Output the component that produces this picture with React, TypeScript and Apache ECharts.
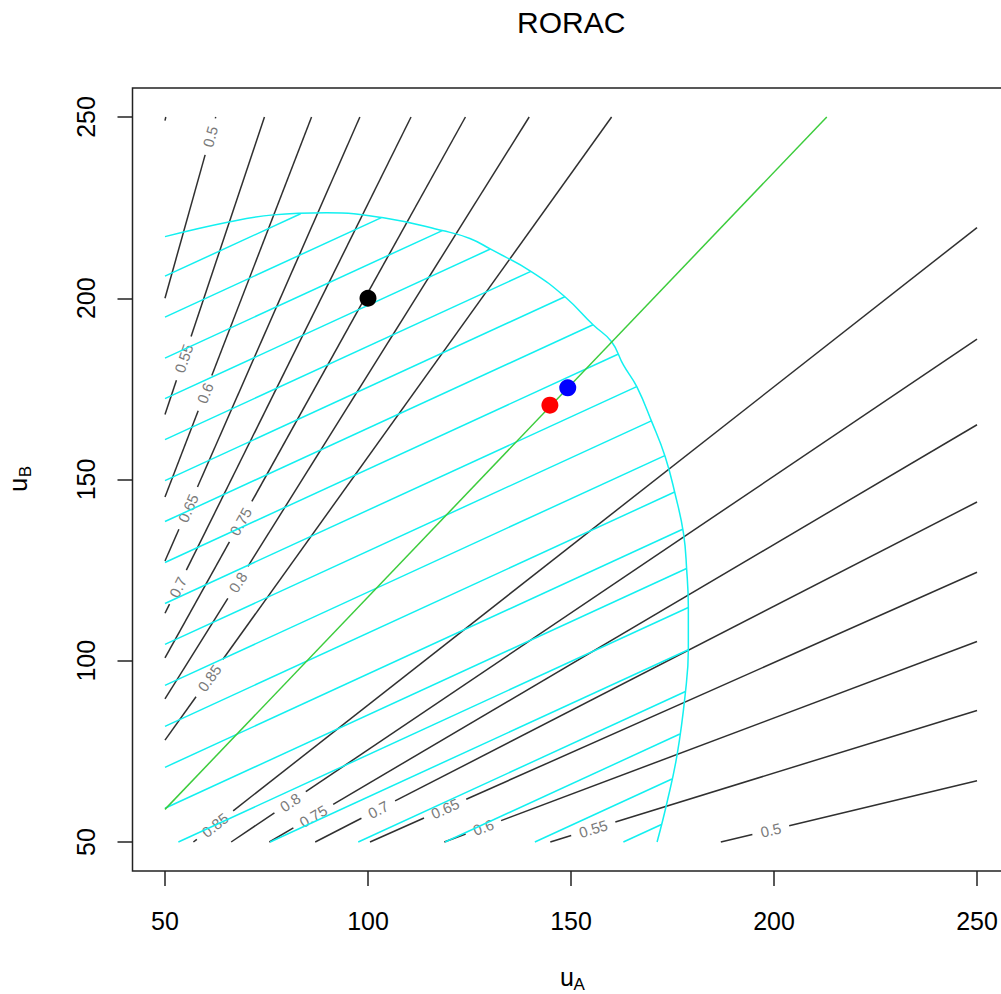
import React, { useEffect, useRef } from "react";
import * as echarts from "echarts";

// ---------- data ----------
const xTicks = [50, 100, 150, 200, 250];
const yTicks = [50, 100, 150, 200, 250];

// RORAC contour lines left of the optimum (steep family)
const upperLevels = ["0.5", "0.55", "0.6", "0.65", "0.7", "0.75", "0.8", "0.85"];
const upperStarts = [[50, 200], [50, 167.9], [50, 145.2], [50, 127.5], [50, 113.1], [50, 100.8], [50, 89.5], [50, 78.1]];
const upperEnds = [[62.5, 250], [74.5, 250], [86.1, 250], [98.0, 250], [110.6, 250], [124.0, 250], [139.7, 250], [160.0, 250]];
const upperLabelAt = [[61.1, 244.6], [54.6, 183.4], [59.9, 173.8], [55.7, 142.1], [53.2, 120.3], [68.6, 138.4], [68.0, 121.6], [61.0, 95.2]];

// RORAC contour lines right of the optimum (flat family)
const lowerLevels = ["0.85", "0.8", "0.75", "0.7", "0.65", "0.6", "0.55", "0.5"];
const lowerStarts = [[57.0, 50], [66.3, 50], [75.7, 50], [87.0, 50], [100.5, 50], [118.8, 50], [144.9, 50], [186.9, 50]];
const lowerEnds = [[250, 219.5], [250, 188.7], [250, 165.1], [250, 143.8], [250, 124.4], [250, 105.3], [250, 86.3], [250, 66.9]];
const lowerLabelAt = [[62.3, 54.7], [80.8, 61.0], [86.5, 57.2], [102.5, 59.0], [119.0, 59.2], [128.4, 54.1], [155.5, 53.6], [199.2, 53.3]];

// tiny piece of a further contour in the top-left corner
const cornerStart = [50, 249.0];
const cornerEnd = [50.2, 250];

// optimal direction (green line)
const optimumLine = [[50, 59.0], [213.0, 250]];

// feasible-region boundary (cyan arc)
const boundaryArc = [
  [50, 217.0], [66.0, 221.1], [76.7, 223.0], [89.8, 223.6], [103.8, 222.2],
  [118.6, 218.6], [125.1, 216.5], [130.1, 213.6], [140.3, 207.3], [148.5, 200.4],
  [155.5, 192.6], [160.0, 188.0], [162.9, 181.6], [166.2, 175.6], [169.9, 165.9],
  [173.2, 156.3], [175.6, 146.2], [177.7, 135.2], [178.5, 125.0], [178.9, 114.9],
  [178.9, 103.0], [178.2, 91.5], [176.2, 74.5], [173.6, 60.7], [171.2, 50],
];

// shading lines inside the region
const hatchSlope = 0.515;
const hatchLeftStarts = [206.1, 194.8, 183.5, 172.3, 161.0, 149.7, 138.4, 127.1, 115.8, 104.5, 93.2, 81.9, 70.6, 59.3];
const hatchBottomStarts = [53.3, 75.9, 97.6, 119.0, 141.1, 162.9];

// points
const pointX = [100, 144.8, 149.2];
const pointY = [200, 170.5, 175.3];
const pointColors = ["#000000", "#ff0000", "#0000ff"];

// ---------- helpers ----------
function hatchEnd(x0: number, y0: number): number[] {
  let best = -1;
  for (let i = 0; i < boundaryArc.length - 1; i++) {
    const [ax, ay] = boundaryArc[i];
    const [bx, by] = boundaryArc[i + 1];
    const dx = bx - ax, dy = by - ay;
    const det = -dy + dx * hatchSlope;
    if (Math.abs(det) < 1e-12) continue;
    const rx = ax - x0, ry = ay - y0;
    const t = (-rx * dy + dx * ry) / det;
    const u = (ry - hatchSlope * rx) / det;
    if (u >= 0 && u <= 1 && t > 0 && (best < 0 || t < best)) best = t;
  }
  if (best < 0) best = 0;
  return [x0 + best, y0 + hatchSlope * best];
}

function labelWidth(s: string, fs: number) {
  let w = 0;
  for (const c of s) w += c === "." ? 0.278 : 0.556;
  return w * fs;
}

const FONT = '"Liberation Sans", Arial, sans-serif';
const LABEL_FS = 15;
const LINE_COLOR = "#303030";
const CYAN = "#12f0f0";

export default function App() {
  const ref = useRef<HTMLDivElement>(null);
  useEffect(() => {
    if (!ref.current) return;
    const chart = echarts.init(ref.current, null, { renderer: "svg" });

    const contourLabels: (string | null)[] = [];
    const contourData: number[][] = [];
    upperLevels.forEach((lv, i) => {
      contourLabels.push(lv);
      contourData.push([upperStarts[i][0], upperStarts[i][1], upperEnds[i][0], upperEnds[i][1], upperLabelAt[i][0], upperLabelAt[i][1]]);
    });
    lowerLevels.forEach((lv, i) => {
      contourLabels.push(lv);
      contourData.push([lowerStarts[i][0], lowerStarts[i][1], lowerEnds[i][0], lowerEnds[i][1], lowerLabelAt[i][0], lowerLabelAt[i][1]]);
    });
    contourLabels.push(null);
    contourData.push([cornerStart[0], cornerStart[1], cornerEnd[0], cornerEnd[1], cornerStart[0], cornerStart[1]]);

    const hatchData: number[][] = [];
    hatchLeftStarts.forEach((y) => {
      const e = hatchEnd(50, y);
      hatchData.push([50, y, e[0], e[1]]);
    });
    hatchBottomStarts.forEach((x) => {
      const e = hatchEnd(x, 50);
      hatchData.push([x, 50, e[0], e[1]]);
    });

    const lineStyle = { stroke: LINE_COLOR, lineWidth: 1.5, fill: null };

    const option: any = {
      animation: false,
      grid: {
        left: 132.5, top: 88, width: 877, height: 783,
        show: true, borderColor: "#222", borderWidth: 1.5, backgroundColor: "transparent",
      },
      xAxis: {
        type: "value", min: 42, max: 258,
        axisLine: { show: false },
        splitLine: { show: false },
        axisTick: { show: true, inside: false, length: 15, customValues: xTicks, lineStyle: { color: "#222", width: 1.5 } },
        axisLabel: { customValues: xTicks, margin: 37, fontSize: 25, color: "#000", fontFamily: FONT },
      },
      yAxis: {
        type: "value", min: 42, max: 258,
        axisLine: { show: false },
        splitLine: { show: false },
        axisTick: { show: true, inside: false, length: 15, customValues: yTicks, lineStyle: { color: "#222", width: 1.5 } },
        axisLabel: { customValues: yTicks, margin: 34, fontSize: 25, color: "#000", fontFamily: FONT, rotate: 90 },
      },
      graphic: [
        {
          type: "text", x: 571.25, y: 22.9,
          style: { text: "RORAC", font: `30px ${FONT}`, fill: "#000", textAlign: "center", textVerticalAlign: "middle", align: "center", verticalAlign: "middle" },
        },
        {
          type: "text", x: 560, y: 977.3,
          style: { text: "u", font: `25px ${FONT}`, fill: "#000", textAlign: "left", textVerticalAlign: "middle", align: "left", verticalAlign: "middle" },
        },
        {
          type: "text", x: 573.5, y: 984.2,
          style: { text: "A", font: `17px ${FONT}`, fill: "#000", textAlign: "left", textVerticalAlign: "middle", align: "left", verticalAlign: "middle" },
        },
        {
          type: "group", x: 26.7, y: 491.7, rotation: Math.PI / 2,
          children: [
            {
              type: "text", x: 0, y: -8.66,
              style: { text: "u", font: `25px ${FONT}`, fill: "#000", textAlign: "left", textVerticalAlign: "middle", align: "left", verticalAlign: "middle" },
            },
            {
              type: "text", x: 14.5, y: -1.06,
              style: { text: "B", font: `17px ${FONT}`, fill: "#000", textAlign: "left", textVerticalAlign: "middle", align: "left", verticalAlign: "middle" },
            },
          ],
        },
      ],
      series: [
        {
          type: "custom",
          coordinateSystem: "cartesian2d",
          encode: { x: [0, 2, 4], y: [1, 3, 5] },
          data: contourData,
          renderItem: (params: any, api: any) => {
            const i = params.dataIndex;
            const p1 = api.coord([api.value(0), api.value(1)]);
            const p2 = api.coord([api.value(2), api.value(3)]);
            const lbl = contourLabels[i];
            if (!lbl) {
              return { type: "line", shape: { x1: p1[0], y1: p1[1], x2: p2[0], y2: p2[1] }, style: lineStyle };
            }
            const L = api.coord([api.value(4), api.value(5)]);
            const dx = p2[0] - p1[0], dy = p2[1] - p1[1];
            const len = Math.hypot(dx, dy);
            const ux = dx / len, uy = dy / len;
            const t = (L[0] - p1[0]) * ux + (L[1] - p1[1]) * uy;
            const half = (labelWidth(lbl, LABEL_FS) + 17) / 2;
            const a = t - half, b = t + half;
            const children: any[] = [];
            if (a > 0) {
              children.push({ type: "line", shape: { x1: p1[0], y1: p1[1], x2: p1[0] + ux * a, y2: p1[1] + uy * a }, style: lineStyle });
            }
            if (b < len) {
              children.push({ type: "line", shape: { x1: p1[0] + ux * b, y1: p1[1] + uy * b, x2: p2[0], y2: p2[1] }, style: lineStyle });
            }
            children.push({
              type: "text",
              x: p1[0] + ux * t,
              y: p1[1] + uy * t,
              rotation: Math.atan2(-uy, ux),
              style: {
                text: lbl, x: 0, y: 0, fill: "#7a7a7a", font: `${LABEL_FS}px ${FONT}`,
                textAlign: "center", textVerticalAlign: "middle", align: "center", verticalAlign: "middle",
              },
            });
            return { type: "group", children };
          },
          z: 2,
        },
        {
          type: "custom",
          coordinateSystem: "cartesian2d",
          encode: { x: [0, 2], y: [1, 3] },
          data: hatchData,
          renderItem: (params: any, api: any) => {
            const p1 = api.coord([api.value(0), api.value(1)]);
            const p2 = api.coord([api.value(2), api.value(3)]);
            return {
              type: "line",
              shape: { x1: p1[0], y1: p1[1], x2: p2[0], y2: p2[1] },
              style: { stroke: CYAN, lineWidth: 1.5, fill: null },
            };
          },
          z: 3,
        },
        {
          type: "line",
          data: boundaryArc,
          symbol: "none",
          smooth: 0.45,
          lineStyle: { color: CYAN, width: 1.5 },
          z: 3,
        },
        {
          type: "line",
          data: optimumLine,
          symbol: "none",
          lineStyle: { color: "#3ccc3c", width: 1.5 },
          z: 4,
        },
        {
          type: "scatter",
          data: pointX.map((x, i) => ({ value: [x, pointY[i]], itemStyle: { color: pointColors[i], opacity: 1 } })),
          symbol: "circle",
          symbolSize: 17,
          itemStyle: { opacity: 1 },
          z: 5,
        },
      ],
    };
    chart.setOption(option);
    return () => chart.dispose();
  }, []);

  return (
    <div style={{ position: "absolute", left: 0, top: 0, width: 1001, height: 994, overflow: "hidden", background: "#fff" }}>
      <div ref={ref} style={{ position: "absolute", left: 0, top: 0, width: 1012, height: 994 }} />
    </div>
  );
}
